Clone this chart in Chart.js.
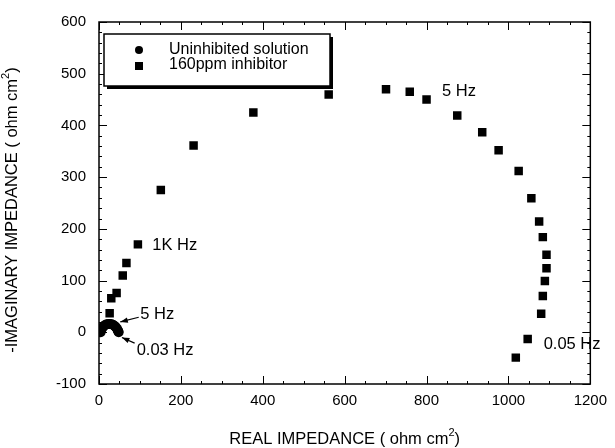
<!DOCTYPE html>
<html lang="en">
<head>
  <meta charset="UTF-8" />
  <title>Nyquist plot</title>
  <script src="https://cdn.jsdelivr.net/npm/chart.js"></script>
  <style>
    body { margin: 0; background: #fff; }
    #wrap { position: relative; width: 615px; height: 448px; }
  </style>
</head>
<body>
  <div id="wrap"><canvas id="nyquist" width="615" height="448"></canvas></div>
  <script>
    // series names
    const seriesNames = ['Uninhibited solution', '160ppm inhibitor'];

    // uninhibited solution (small semicircle near the origin)
    const blankReal = [4, 5, 7, 9, 12, 15, 19, 23, 27, 31, 35, 38, 41, 44, 46, 47, 48];
    const blankImag = [0, 4, 7, 10, 12, 14, 15.5, 16, 16, 15.5, 14, 12, 10, 7, 4, 2, 0];

    // 160 ppm inhibitor
    const inhReal = [26, 30, 43, 58, 67, 95, 151, 231, 377, 561, 701, 759, 800, 875, 936, 976, 1025, 1056, 1075, 1084, 1093, 1093, 1089, 1084, 1080, 1047, 1018];
    const inhImag = [37, 66, 76, 110, 134, 170, 275, 361, 425, 460, 470, 465, 450, 419, 387, 352, 312, 259, 214, 184, 150, 124, 99, 70, 36, -13, -49];

    // axis ranges
    const xRange = [0, 1200, 200];
    const yRange = [-100, 600, 100];

    // axis titles (the "2" is set as a superscript)
    const xTitle = ['REAL IMPEDANCE ( ohm cm', '2', ')'];
    const yTitle = ['-IMAGINARY IMPEDANCE ( ohm cm', '2', ')'];

    // frequency notes (data units)
    const noteText = ['1K Hz', '5 Hz', '0.05 Hz', '5 Hz', '0.03 Hz'];
    const noteX = [130, 838, 1086, 101, 92];
    const noteY = [167, 466, -23, 34, -35];
    // arrows: from -> to (data units)
    const arrowFrom = [[97, 29], [87, -21]];
    const arrowTo = [[52, 20], [56, -10]];

    const FONT = '"Liberation Sans", Arial, Helvetica, sans-serif';

    const toPts = (xs, ys) => xs.map((x, i) => ({ x: x, y: ys[i] }));

    // text with a superscript part, centred on (0,0) of the current transform
    function supText(c, parts, size) {
      const big = size + 'px ' + FONT, small = Math.round(size * 0.68) + 'px ' + FONT;
      c.font = big; const w0 = c.measureText(parts[0]).width; const w2 = c.measureText(parts[2]).width;
      c.font = small; const w1 = c.measureText(parts[1]).width;
      let x = -(w0 + w1 + w2) / 2;
      c.textAlign = 'left';
      c.textBaseline = 'middle';
      c.font = big; c.fillText(parts[0], x, 0); x += w0;
      c.font = small; c.fillText(parts[1], x, -6); x += w1;
      c.font = big; c.fillText(parts[2], x, 0);
    }

    const framePlugin = {
      id: 'frame',
      afterDraw(chart) {
        const c = chart.ctx;
        const a = chart.chartArea;
        const sx = chart.scales.x, sy = chart.scales.y;
        c.save();
        c.strokeStyle = '#000';
        c.fillStyle = '#000';
        c.lineWidth = 1.5;
        c.strokeRect(a.left, a.top, a.right - a.left, a.bottom - a.top);

        // inward ticks on all four sides
        c.lineWidth = 1;
        c.beginPath();
        for (let v = xRange[0]; v <= xRange[1]; v += 50) {
          const px = Math.round(sx.getPixelForValue(v)) + 0.5;
          const len = v % 200 === 0 ? 8 : 3;
          c.moveTo(px, a.bottom); c.lineTo(px, a.bottom - len);
          c.moveTo(px, a.top); c.lineTo(px, a.top + len);
        }
        for (let v = yRange[0]; v <= yRange[1]; v += 20) {
          const py = Math.round(sy.getPixelForValue(v)) + 0.5;
          const len = v % 100 === 0 ? 8 : 3;
          c.moveTo(a.left, py); c.lineTo(a.left + len, py);
          c.moveTo(a.right, py); c.lineTo(a.right - len, py);
        }
        c.stroke();

        // axis titles
        c.save();
        c.translate((a.left + a.right) / 2, 439);
        supText(c, xTitle, 16.5);
        c.restore();
        c.save();
        c.translate(12, 210);
        c.rotate(-Math.PI / 2);
        supText(c, yTitle, 16.5);
        c.restore();

        // legend box with drop shadow
        const bx = a.left + 5, by = a.top + 12, bw = 226, bh = 52;
        c.fillRect(bx + 3, by + 3, bw, bh);
        c.fillStyle = '#fff';
        c.fillRect(bx, by, bw, bh);
        c.lineWidth = 1.5;
        c.strokeRect(bx, by, bw, bh);
        c.fillStyle = '#000';
        c.font = '16px ' + FONT;
        c.textAlign = 'left';
        c.textBaseline = 'middle';
        c.beginPath();
        c.arc(bx + 35, by + 16, 4, 0, Math.PI * 2);
        c.fill();
        c.fillRect(bx + 31, by + 28, 8, 8);
        c.fillText(chart.data.datasets[0].label, bx + 65, by + 16);
        c.fillText(chart.data.datasets[1].label, bx + 65, by + 31);

        // frequency notes
        c.font = '16.5px ' + FONT;
        noteText.forEach((t, i) => {
          c.fillText(t, sx.getPixelForValue(noteX[i]), sy.getPixelForValue(noteY[i]));
        });

        // arrows
        c.lineWidth = 1.2;
        arrowFrom.forEach((f, i) => {
          const x0 = sx.getPixelForValue(f[0]), y0 = sy.getPixelForValue(f[1]);
          const x1 = sx.getPixelForValue(arrowTo[i][0]), y1 = sy.getPixelForValue(arrowTo[i][1]);
          const ang = Math.atan2(y1 - y0, x1 - x0);
          c.beginPath();
          c.moveTo(x0, y0); c.lineTo(x1, y1);
          c.stroke();
          c.beginPath();
          c.moveTo(x1, y1);
          c.lineTo(x1 - 8 * Math.cos(ang - 0.35), y1 - 8 * Math.sin(ang - 0.35));
          c.lineTo(x1 - 8 * Math.cos(ang + 0.35), y1 - 8 * Math.sin(ang + 0.35));
          c.closePath();
          c.fill();
        });
        c.restore();
      }
    };

    new Chart(document.getElementById('nyquist'), {
      type: 'scatter',
      data: {
        datasets: [
          { label: seriesNames[0], data: toPts(blankReal, blankImag), pointStyle: 'circle', pointRadius: 5, backgroundColor: '#000', borderWidth: 0 },
          { label: seriesNames[1], data: toPts(inhReal, inhImag), pointStyle: 'rect', pointRadius: 6, backgroundColor: '#000', borderWidth: 0 }
        ]
      },
      options: {
        responsive: false,
        animation: false,
        layout: { padding: { left: 0, top: 19, right: 19, bottom: 0 } },
        plugins: { legend: { display: false }, tooltip: { enabled: false } },
        scales: {
          x: {
            type: 'linear', min: xRange[0], max: xRange[1],
            afterFit: s => { s.height = 64; },
            grid: { display: false, drawTicks: false },
            border: { display: false },
            ticks: { stepSize: xRange[2], padding: 8, color: '#000', font: { family: FONT, size: 15 }, callback: v => String(v) }
          },
          y: {
            type: 'linear', min: yRange[0], max: yRange[1],
            afterFit: s => { s.width = 99; },
            grid: { display: false, drawTicks: false },
            border: { display: false },
            ticks: { stepSize: yRange[2], padding: 13, color: '#000', font: { family: FONT, size: 15 }, callback: v => String(v) }
          }
        }
      },
      plugins: [framePlugin]
    });
  </script>
</body>
</html>
